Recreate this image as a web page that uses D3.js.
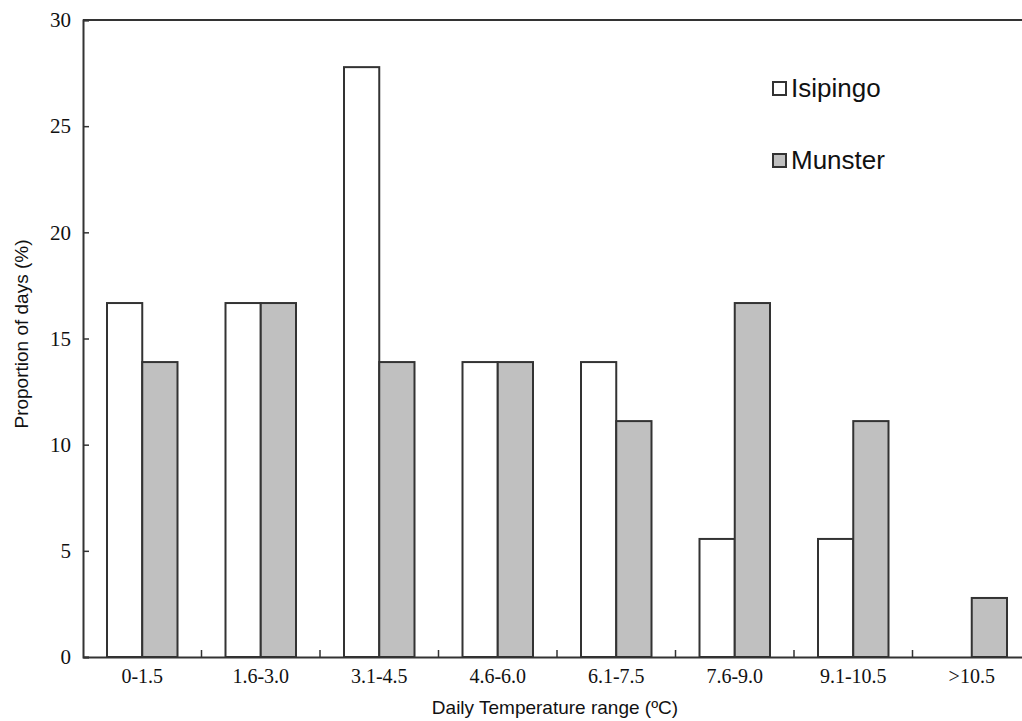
<!DOCTYPE html>
<html>
<head>
<meta charset="utf-8">
<script src="https://cdn.jsdelivr.net/npm/d3@7"></script>
<style>
  body { margin:0; background:#fff; overflow:hidden; }
</style>
</head>
<body>
<div id="chart"></div>
<script>
// chart data
var categories = ["0-1.5","1.6-3.0","3.1-4.5","4.6-6.0","6.1-7.5","7.6-9.0","9.1-10.5",">10.5"];
var seriesNames = ["Isipingo","Munster"];
var isipingo = [16.67,16.67,27.78,13.89,13.89,5.56,5.56,0];
var munster = [13.89,16.67,13.89,13.89,11.11,16.67,11.11,2.78];
var yTicks = [0,5,10,15,20,25,30];
var colors = ["#ffffff","#c0c0c0"];

var W = 1022, H = 721;
var margin = {left:83, top:20, right:-9, bottom:64};
var iw = W - margin.left - margin.right, ih = H - margin.top - margin.bottom;
var serif = "'Liberation Serif','Times New Roman',serif";
var sans = "'Liberation Sans',Arial,sans-serif";

var svg = d3.select("#chart").append("svg").attr("width",W).attr("height",H);
var g = svg.append("g").attr("transform","translate("+margin.left+","+margin.top+")");

var x0 = d3.scaleBand().domain(categories).range([0,iw]).paddingInner(0).paddingOuter(0);
var x1 = d3.scaleBand().domain(seriesNames).range([24, x0.bandwidth()-24]);
var y = d3.scaleLinear().domain([0,30]).range([ih,0]);

var rows = categories.map(function(c,i){ return {cat:c, vals:[isipingo[i], munster[i]]}; });

// bars
var grp = g.selectAll(".grp").data(rows).enter().append("g")
  .attr("transform",function(d){ return "translate("+x0(d.cat)+",0)"; });
grp.selectAll("rect").data(function(d){ return d.vals.map(function(v,k){ return {name:seriesNames[k], v:v, k:k}; }); })
  .enter().filter(function(d){ return d.v > 0; }).append("rect")
  .attr("x",function(d){ return x1(d.name); })
  .attr("width",x1.bandwidth())
  .attr("y",function(d){ return y(d.v); })
  .attr("height",function(d){ return ih - y(d.v); })
  .attr("fill",function(d){ return colors[d.k]; })
  .attr("stroke","#333").attr("stroke-width",2);

// frame top
g.append("line").attr("x1",0).attr("x2",iw).attr("y1",0).attr("y2",0)
  .attr("stroke","#333").attr("stroke-width",2);

// y axis
var yAxis = g.append("g").call(d3.axisLeft(y).tickValues(yTicks).tickSize(-6).tickPadding(12));
yAxis.select(".domain").attr("stroke","#333").attr("stroke-width",2);
yAxis.selectAll(".tick line").attr("stroke","#333").attr("stroke-width",1.5);
yAxis.selectAll(".tick text").style("font-family",serif).style("font-size","21px").attr("fill","#111");

// x axis
var xAxis = g.append("g").attr("transform","translate(0,"+ih+")")
  .call(d3.axisBottom(x0).tickSize(0).tickPadding(12));
xAxis.select(".domain").attr("stroke","#333").attr("stroke-width",2);
xAxis.selectAll(".tick text").style("font-family",serif).style("font-size","20px").attr("fill","#111");
// between-category ticks pointing up
g.selectAll(".sep").data(categories.slice(1)).enter().append("line")
  .attr("x1",function(d){ return x0(d); }).attr("x2",function(d){ return x0(d); })
  .attr("y1",ih).attr("y2",ih-7).attr("stroke","#333").attr("stroke-width",1.5);

// titles
svg.append("text").attr("x",555).attr("y",714)
  .attr("text-anchor","middle").style("font-family",sans)
  .style("font-size","19px").attr("fill","#111").text("Daily Temperature range (ºC)");
svg.append("text").attr("transform","translate(28,334) rotate(-90)")
  .attr("text-anchor","middle").style("font-family",sans)
  .style("font-size","19px").attr("fill","#111").text("Proportion of days (%)");

// legend
var leg = svg.selectAll(".leg").data(seriesNames).enter().append("g")
  .attr("transform",function(d,i){ return "translate(773,"+(82+i*72)+")"; });
leg.append("rect").attr("width",13).attr("height",13)
  .attr("fill",function(d,i){ return colors[i]; })
  .attr("stroke","#333").attr("stroke-width",2);
leg.append("text").attr("x",18).attr("y",15)
  .style("font-family",sans).style("font-size","26px")
  .attr("fill","#111").text(function(d){ return d; });
</script>
</body>
</html>
